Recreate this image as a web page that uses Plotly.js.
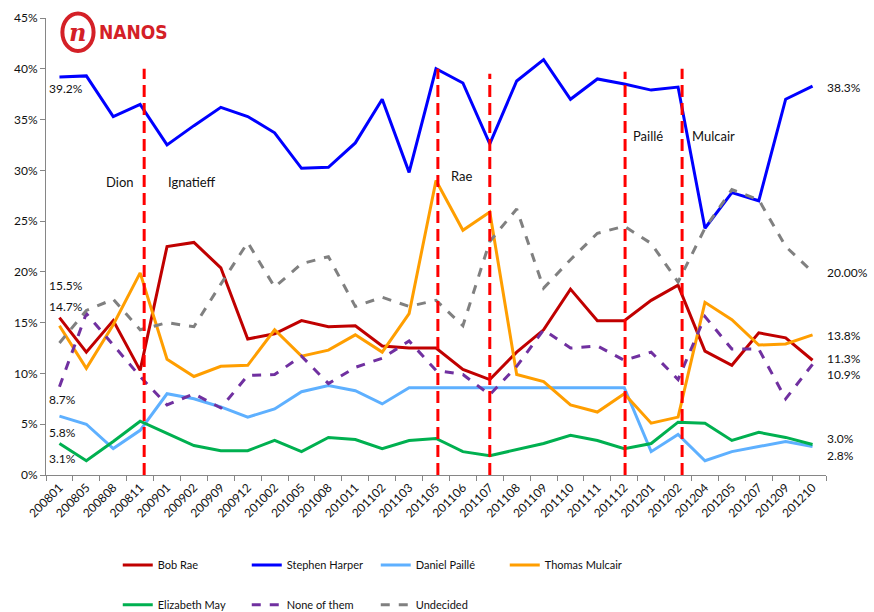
<!DOCTYPE html>
<html>
<head>
<meta charset="utf-8">
<script src="https://cdn.plot.ly/plotly-3.0.1.min.js"></script>
<style>html,body{margin:0;padding:0;background:#fff;}#chart{width:874px;height:612px;}</style>
</head>
<body>
<div id="chart"></div>
<script>
const months = ["200801","200805","200808","200811","200901","200902","200909","200912","201002","201005","201008","201011","201102","201103","201105","201106","201107","201108","201109","201110","201111","201112","201201","201202","201204","201205","201207","201209","201210"];

const bobRae        = [15.5,12.1,15.2,10.3,22.5,22.9,20.4,13.4,13.9,15.2,14.6,14.7,12.7,12.5,12.5,10.4,9.4,12.1,14.3,18.3,15.2,15.2,17.2,18.7,12.2,10.8,14.0,13.5,11.3];
const harper        = [39.2,39.3,35.3,36.5,32.5,34.4,36.2,35.3,33.7,30.2,30.3,32.7,37.0,29.8,40.0,38.6,32.6,38.8,40.9,37.0,39.0,38.5,37.9,38.2,24.3,27.8,27.0,37.0,38.3];
const paille        = [5.8,5.0,2.6,4.4,8.0,7.5,6.7,5.7,6.5,8.2,8.8,8.3,7.0,8.6,8.6,8.6,8.6,8.6,8.6,8.6,8.6,8.6,2.3,4.0,1.4,2.3,2.8,3.3,2.8];
const mulcair       = [14.7,10.5,14.8,19.9,11.4,9.7,10.7,10.8,14.3,11.7,12.3,13.8,12.1,15.9,29.0,24.1,25.9,9.9,9.2,6.9,6.2,8.0,5.1,5.7,17.0,15.3,12.8,12.9,13.8];
const may           = [3.1,1.4,3.3,5.3,4.1,2.9,2.4,2.4,3.4,2.3,3.7,3.5,2.6,3.4,3.6,2.3,1.9,2.5,3.1,3.9,3.4,2.6,3.1,5.2,5.1,3.4,4.2,3.7,3.0];
const noneOfThem    = [8.7,15.9,12.8,9.7,6.9,8.0,6.6,9.8,9.9,11.7,9.0,10.6,11.5,13.2,10.3,9.9,7.9,10.7,14.3,12.5,12.7,11.3,12.1,9.4,15.6,12.4,12.4,7.5,10.9];
const undecided     = [13.0,16.2,17.3,14.3,15.0,14.6,18.8,22.9,18.5,20.8,21.5,16.6,17.5,16.6,17.2,14.7,23.0,26.2,18.4,21.2,23.8,24.5,22.8,19.0,24.3,28.1,27.1,22.5,20.0];

const seriesNames = ["Bob Rae","Stephen Harper","Daniel Paillé","Thomas Mulcair","Elizabeth May","None of them","Undecided"];
const seriesData = [bobRae,harper,paille,mulcair,may,noneOfThem,undecided];
const seriesColors = ["#C00000","#0000FF","#5EB0FF","#FF9E00","#00B050","#7030A0","#808080"];
const seriesDash = ["solid","solid","solid","solid","solid","dash","dash"];
const seriesLegend = ["legend","legend","legend","legend","legend2","legend2","legend2"];

// leader-change marker positions (category index) and labels
const changeLines = [3.15, 14.07, 16.0, 21.03, 23.15];
const changeTops  = [40, 40, 39.5, 39.7, 40];
const leaderLabels = [
  {t:"Dion", x:2.25, y:28.9},
  {t:"Ignatieff", x:4.93, y:28.9},
  {t:"Rae", x:14.96, y:29.4},
  {t:"Paillé", x:21.88, y:33.4},
  {t:"Mulcair", x:24.3, y:33.4}
];
const startLabels = [{t:"39.2%",y:38.1},{t:"15.5%",y:18.7},{t:"14.7%",y:16.6},{t:"8.7%",y:7.4},{t:"5.8%",y:4.2},{t:"3.1%",y:1.6}];
const endLabels = [{t:"38.3%",y:38.2},{t:"20.00%",y:19.9},{t:"13.8%",y:13.7},{t:"11.3%",y:11.5},{t:"10.9%",y:9.9},{t:"3.0%",y:3.6},{t:"2.8%",y:1.9}];

const FONT = "Lato, 'Open Sans', sans-serif";

const traces = seriesNames.map((n,i)=>({
  type:"scatter", mode:"lines", name:n, x:months, y:seriesData[i],
  line:{color:seriesColors[i], width:3, dash:seriesDash[i]},
  legend:seriesLegend[i], hoverinfo:"skip"
}));

const shapes = changeLines.map((cx,i)=>({
  type:"line", xref:"x", yref:"y", x0:cx, x1:cx, y0:0, y1:changeTops[i],
  line:{color:"#FF0000", width:3, dash:"12px,6px"}
}));
// logo circle
shapes.push({type:"circle", xref:"paper", yref:"paper", x0:0.021, x1:0.061, y0:0.928, y1:1.010,
  line:{color:"#D42027", width:4}, fillcolor:"rgba(0,0,0,0)"});

const annotations = [];
leaderLabels.forEach(a=>annotations.push({xref:"x",yref:"y",x:a.x,y:a.y,text:a.t,showarrow:false,
  font:{family:FONT,size:13,color:"#111"}}));
startLabels.forEach(a=>annotations.push({xref:"x",yref:"y",x:-0.46,y:a.y,text:a.t,showarrow:false,xanchor:"left",
  font:{family:FONT,size:12,color:"#111"}}));
endLabels.forEach(a=>annotations.push({xref:"x",yref:"y",x:28.46,y:a.y,text:a.t,showarrow:false,xanchor:"left",
  font:{family:FONT,size:12,color:"#111"}}));
annotations.push({xref:"paper",yref:"paper",x:0.041,y:0.969,xanchor:"center",yanchor:"middle",text:"<i><b>n</b></i>",showarrow:false,
  font:{family:"DejaVu Serif",size:24,color:"#D42027"}});
annotations.push({xref:"paper",yref:"paper",x:0.066,y:0.969,xanchor:"left",yanchor:"middle",text:"<b>NANOS</b>",showarrow:false,
  font:{family:"'DejaVu Sans Condensed', 'DejaVu Sans'",size:19,color:"#D42027"}});

const layout = {
  width:874, height:612,
  margin:{l:46, r:48, t:18, b:137, autoexpand:false},
  paper_bgcolor:"#fff", plot_bgcolor:"#fff",
  font:{family:FONT, size:12, color:"#222"},
  xaxis:{type:"category", range:[-0.5, months.length-0.5], autorange:false, tickson:"boundaries", ticks:"outside", ticklen:5, tickcolor:"#868686",
    showline:true, linecolor:"#868686", linewidth:1, showgrid:false, tickangle:-45, automargin:false,
    tickfont:{family:FONT,size:12,color:"#111"}, zeroline:false},
  yaxis:{range:[0,45], dtick:5, ticksuffix:"%", ticks:"outside", ticklen:5, tickcolor:"#868686",
    showline:true, linecolor:"#868686", linewidth:1, showgrid:false, zeroline:false, automargin:false,
    tickfont:{family:FONT,size:12,color:"#111"}},
  legend:{orientation:"h", x:0.092, xanchor:"left", y:-0.197, yanchor:"middle",
    entrywidth:84, entrywidthmode:"pixels", font:{family:FONT,size:11,color:"#111"}},
  legend2:{orientation:"h", x:0.092, xanchor:"left", y:-0.284, yanchor:"middle",
    entrywidth:84, entrywidthmode:"pixels", font:{family:FONT,size:11,color:"#111"}},
  shapes:shapes, annotations:annotations, showlegend:true
};

Plotly.newPlot("chart", traces, layout, {displayModeBar:false, staticPlot:true});
</script>
</body>
</html>
